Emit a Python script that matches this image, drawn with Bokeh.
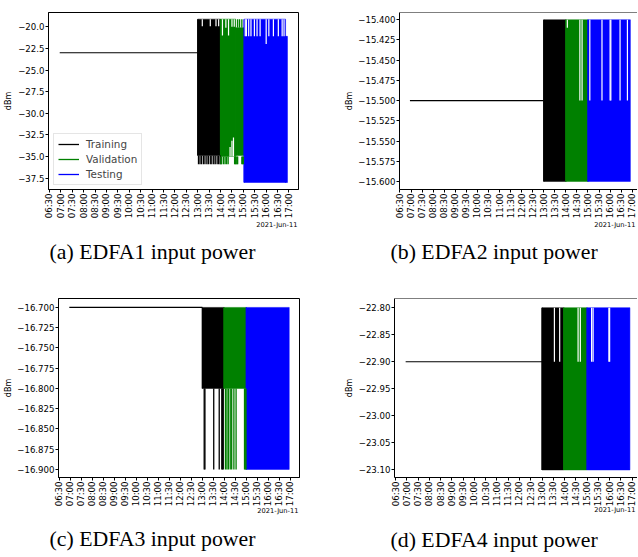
import math
import pandas as pd
from bokeh.plotting import figure
from bokeh.layouts import row, column
from bokeh.models import (Range1d, FixedTicker, CustomJSTickFormatter, DatetimeTickFormatter,
                          Legend, LegendItem, ColumnDataSource, Span, Title)
from bokeh.embed import file_html
from bokeh.resources import INLINE

DATE = "2021-06-11"
DATE_LABEL = "2021-Jun-11"
Y_LABEL = "dBm"
X_TICK_LABELS = ["06:30", "07:00", "07:30", "08:00", "08:30", "09:00", "09:30", "10:00",
                 "10:30", "11:00", "11:30", "12:00", "12:30", "13:00", "13:30", "14:00",
                 "14:30", "15:00", "15:30", "16:00", "16:30", "17:00"]
SERIES = ["Training", "Validation", "Testing"]
COLORS = {"Training": "#000000", "Validation": "#008000", "Testing": "#0000ff"}

# ---------------- Panel (a) EDFA1 ----------------
A_CAPTION = "(a) EDFA1 input power"
A_YTICKS = [-20.0, -22.5, -25.0, -27.5, -30.0, -32.5, -35.0, -37.5]
A_FLAT_T = ["06:57", "13:00"]
A_FLAT_V = -23.0
A_BAND_SERIES = ["Training", "Validation", "Validation", "Testing", "Testing"]
A_BAND_T0 = ["13:00", "14:00", "14:40", "15:02", "16:51"]
A_BAND_T1 = ["14:00", "14:40", "15:02", "16:51", "16:56"]
A_BAND_LOW = [-34.9, -35.0, -34.9, -38.02, -38.02]
A_BAND_HIGH = [-19.11, -19.11, -20.1, -19.11, -21.1]
A_SPIKE_SERIES = (["Training"] * 14 + ["Validation"] * 14 + ["Validation"] * 3)
A_SPIKE_T = ["13:02", "13:06", "13:10", "13:15", "13:19", "13:24", "13:28", "13:33", "13:37",
             "13:42", "13:46", "13:51", "13:55", "13:59",
             "14:01", "14:03", "14:08", "14:12", "14:16", "14:20", "14:37", "14:39", "14:41",
             "14:43", "14:45", "14:56", "14:58", "15:00",
             "14:45", "14:50", "14:56"]
A_SPIKE_LOW = [-35.9] * 14 + [-35.9] * 14 + [-20.1] * 3
A_SPIKE_HIGH = [-34.9] * 14 + [-35.0] * 14 + [-19.11] * 3
A_GAP_T = ["13:12", "13:33", "13:48", "13:55",
           "14:05", "14:14", "14:21", "14:30", "14:36",
           "14:25", "14:30", "14:34",
           "15:05", "15:08", "15:14", "15:20", "15:29", "15:36", "15:44", "16:00", "16:07",
           "16:19", "16:32", "16:42", "16:47"]
A_GAP_LOW = [-19.92, -19.92, -19.92, -19.92,
             -21.0, -20.1, -21.0, -20.0, -20.0,
             -35.0, -35.0, -35.0,
             -21.1, -21.1, -21.1, -21.1, -21.1, -21.1, -21.1, -22.0, -21.1,
             -21.1, -21.1, -21.1, -21.1]
A_GAP_HIGH = [-19.11, -19.11, -19.11, -19.11,
              -19.11, -19.11, -19.11, -19.11, -19.11,
              -33.9, -33.2, -32.8,
              -19.11, -19.11, -19.11, -19.11, -19.11, -19.11, -19.11, -19.11, -19.11,
              -19.11, -19.11, -19.11, -19.11]

# ---------------- Panel (b) EDFA2 ----------------
B_CAPTION = "(b) EDFA2 input power"
B_YTICKS = [-15.400, -15.425, -15.450, -15.475, -15.500, -15.525, -15.550, -15.575, -15.600]
B_FLAT_T = ["06:57", "13:00"]
B_FLAT_V = -15.5
B_BAND_SERIES = ["Training", "Validation", "Testing"]
B_BAND_T0 = ["13:00", "14:00", "15:00"]
B_BAND_T1 = ["14:00", "15:00", "16:55"]
B_BAND_LOW = [-15.6, -15.6, -15.6]
B_BAND_HIGH = [-15.4, -15.4, -15.4]
B_SPIKE_SERIES = []
B_SPIKE_T = []
B_SPIKE_LOW = []
B_SPIKE_HIGH = []
B_GAP_T = ["14:04", "14:38", "14:44", "15:05", "15:38", "16:00", "16:02", "16:27", "16:47"]
B_GAP_LOW = [-15.41, -15.5, -15.5, -15.5, -15.5, -15.5, -15.5, -15.5, -15.5]
B_GAP_HIGH = [-15.4] * 9

# ---------------- Panel (c) EDFA3 ----------------
C_CAPTION = "(c) EDFA3 input power"
C_YTICKS = [-16.700, -16.725, -16.750, -16.775, -16.800, -16.825, -16.850, -16.875, -16.900]
C_FLAT_T = ["06:57", "13:00"]
C_FLAT_V = -16.7
C_BAND_SERIES = ["Training", "Validation", "Testing"]
C_BAND_T0 = ["13:00", "13:59", "15:00"]
C_BAND_T1 = ["13:59", "15:00", "16:57"]
C_BAND_LOW = [-16.8, -16.8, -16.9]
C_BAND_HIGH = [-16.7, -16.7, -16.7]
C_SPIKE_SERIES = ["Training"] * 7 + ["Validation"] * 10
C_SPIKE_T = ["13:05", "13:07", "13:31", "13:46", "13:53", "13:55", "13:57",
             "14:03", "14:07", "14:11", "14:16", "14:20", "14:26", "14:32", "14:55", "14:57", "14:59"]
C_SPIKE_LOW = [-16.9] * 17
C_SPIKE_HIGH = [-16.8] * 17
C_GAP_T = []
C_GAP_LOW = []
C_GAP_HIGH = []

# ---------------- Panel (d) EDFA4 ----------------
D_CAPTION = "(d) EDFA4 input power"
D_YTICKS = [-22.80, -22.85, -22.90, -22.95, -23.00, -23.05, -23.10]
D_FLAT_T = ["06:57", "13:00"]
D_FLAT_V = -22.9
D_BAND_SERIES = ["Training", "Validation", "Testing"]
D_BAND_T0 = ["13:00", "13:58", "15:00"]
D_BAND_T1 = ["13:58", "15:00", "16:54"]
D_BAND_LOW = [-23.1, -23.1, -23.1]
D_BAND_HIGH = [-22.8, -22.8, -22.8]
D_SPIKE_SERIES = []
D_SPIKE_T = []
D_SPIKE_LOW = []
D_SPIKE_HIGH = []
D_GAP_T = ["13:33", "13:47", "14:36", "14:42", "15:12", "15:16", "15:58", "16:00"]
D_GAP_LOW = [-22.9] * 8
D_GAP_HIGH = [-22.8] * 8


def ms(hm):
    return pd.Timestamp(f"{DATE} {hm}").value / 1e6


TICK_FONT = "DejaVu Sans"
CAP_FONT = "Liberation Serif"


def make_panel(d, lay):
    p = figure(width=lay["w"], height=lay["h"], x_axis_type="datetime", toolbar_location=None,
               output_backend="svg", min_border_left=lay["bl"], min_border_right=lay["br"],
               min_border_top=lay["bt"], min_border_bottom=lay["bb"],
               x_range=Range1d(ms(lay["xr"][0]), ms(lay["xr"][1])),
               y_range=Range1d(lay["yr"][0], lay["yr"][1]))
    p.background_fill_color = "white"
    p.border_fill_color = "white"
    p.grid.visible = False
    if lay["full_frame"]:
        p.outline_line_color = "black"
        p.outline_line_width = 1
    else:
        p.outline_line_color = None
        p.add_layout(Span(location=lay["yr"][1], dimension="width", line_color="black", line_width=1))

    # flat line (start of the record)
    p.line(x=[ms(t) for t in d["flat_t"]], y=[d["flat_v"]] * len(d["flat_t"]),
           line_color=COLORS["Training"], line_width=1.2)
    # dense oscillation envelopes, one renderer per series
    edge_r = {}
    for s in SERIES:
        idx = [i for i, ss in enumerate(d["band_series"]) if ss == s]
        src = ColumnDataSource(dict(
            left=[ms(d["band_t0"][i]) for i in idx], right=[ms(d["band_t1"][i]) for i in idx],
            bottom=[d["band_low"][i] for i in idx], top=[d["band_high"][i] for i in idx]))
        p.quad(left="left", right="right", bottom="bottom", top="top", source=src,
               fill_color=COLORS[s], line_color=COLORS[s], line_width=0.5)
        edge_r[s] = p.segment(x0="left", y0="bottom", x1="left", y1="top", source=src,
                              line_color=COLORS[s], line_width=1.3)
    # spikes beyond the envelope
    for s in SERIES:
        idx = [i for i, ss in enumerate(d["spike_series"]) if ss == s]
        if not idx:
            continue
        src = ColumnDataSource(dict(
            x=[ms(d["spike_t"][i]) for i in idx],
            y0=[d["spike_low"][i] for i in idx],
            y1=[d["spike_high"][i] for i in idx]))
        p.segment(x0="x", y0="y0", x1="x", y1="y1", source=src,
                  line_color=COLORS[s], line_width=1.3)
    # white gaps inside the envelope
    gap_src = ColumnDataSource(dict(x=[ms(t) for t in d["gap_t"]], y0=d["gap_low"], y1=d["gap_high"]))
    p.segment(x0="x", y0="y0", x1="x", y1="y1", source=gap_src, line_color="white", line_width=1.2)

    # x axis
    p.xaxis.ticker = FixedTicker(ticks=[ms(t) for t in X_TICK_LABELS])
    fmt = "%H:%M"
    p.xaxis.formatter = DatetimeTickFormatter(seconds=fmt, minsec=fmt, minutes=fmt, hourmin=fmt,
                                              hours=fmt, days=fmt)
    p.xaxis.major_label_orientation = math.pi / 2
    # y axis
    p.yaxis.ticker = FixedTicker(ticks=d["yticks"])
    p.yaxis.formatter = CustomJSTickFormatter(args=dict(n=lay["dec"]),
                                              code="return tick.toFixed(n).replace('-', '\u2212');")
    p.yaxis.axis_label = Y_LABEL
    p.yaxis.axis_label_standoff = lay["lab_so"]
    p.yaxis.axis_label_text_font = TICK_FONT
    p.yaxis.axis_label_text_font_size = "8px"
    p.yaxis.axis_label_text_font_style = "normal"
    p.yaxis.axis_label_text_color = "black"
    for ax in (p.xaxis[0], p.yaxis[0]):
        ax.major_tick_out = 3
        ax.major_tick_in = 0
        ax.minor_tick_line_color = None
        ax.major_label_standoff = 1
        ax.major_label_text_font = TICK_FONT
        ax.major_label_text_font_size = "8.6px"
        ax.major_label_text_color = "black"
        ax.axis_line_color = "black"
        ax.major_tick_line_color = "black"

    p.add_layout(Title(text=DATE_LABEL, align="right", vertical_align="top", offset=lay["date_off"],
                       standoff=lay["date_so"], text_font=TICK_FONT, text_font_size="6.7px",
                       text_font_style="normal", text_color="black"), "below")
    p.add_layout(Title(text=" ", align="left", vertical_align="top", standoff=lay["sp_so"],
                       text_font=TICK_FONT, text_font_size="1px", text_font_style="normal"), "below")
    p.add_layout(Title(text=d["caption"], align="left", vertical_align="bottom", offset=lay["cap_off"],
                       standoff=0, text_font=CAP_FONT, text_font_size="21.8px",
                       text_font_style="normal", text_color="black"), "below")

    if lay["legend"]:
        items = [LegendItem(label=s, renderers=[edge_r[s]]) for s in SERIES]
        lg = Legend(items=items, location=(5, 4), glyph_width=21, glyph_height=12,
                    label_height=12, spacing=3, padding=4, label_standoff=7,
                    label_text_font=TICK_FONT, label_text_font_size="10.4px",
                    border_line_color="#cccccc", border_line_width=1,
                    background_fill_color="white", background_fill_alpha=0.85, margin=0)
        p.add_layout(lg, "center")
    return p


def pack(prefix):
    g = globals()
    keys = ["CAPTION", "YTICKS", "FLAT_T", "FLAT_V", "BAND_SERIES", "BAND_T0", "BAND_T1",
            "BAND_LOW", "BAND_HIGH", "SPIKE_SERIES", "SPIKE_T", "SPIKE_LOW", "SPIKE_HIGH",
            "GAP_T", "GAP_LOW", "GAP_HIGH"]
    return {k.lower(): g[f"{prefix}_{k}"] for k in keys}


pa = make_panel(pack("A"), dict(w=320, h=280, bl=48, br=22, bt=4, bb=91,
                                xr=("06:27:30", "17:25"), yr=(-38.83, -18.34), dec=1, lab_so=2,
                                date_off=1, date_so=-1, sp_so=4, cap_off=1, legend=True,
                                full_frame=True))
pb = make_panel(pack("B"), dict(w=317, h=280, bl=79, br=0, bt=12, bb=89,
                                xr=("06:28:40", "17:14:20"), yr=(-15.61, -15.391), dec=3, lab_so=1,
                                date_off=2, date_so=-1, sp_so=4, cap_off=-9, legend=False,
                                full_frame=False))
pc = make_panel(pack("C"), dict(w=320, h=276, bl=58, br=21, bt=18, bb=78,
                                xr=("06:27:30", "17:25"), yr=(-16.91, -16.689), dec=3, lab_so=1,
                                date_off=1, date_so=-6, sp_so=8, cap_off=-9, legend=False,
                                full_frame=True))
pd_ = make_panel(pack("D"), dict(w=317, h=276, bl=74, br=0, bt=14, bb=79,
                                 xr=("06:27:20", "17:14:10"), yr=(-23.114, -22.783), dec=2, lab_so=2,
                                 date_off=2, date_so=-7, sp_so=10, cap_off=-4, legend=False,
                                 full_frame=False))

layout = column(row(pa, pb), row(pc, pd_))
open("out.html", "w").write(file_html(layout, INLINE))
